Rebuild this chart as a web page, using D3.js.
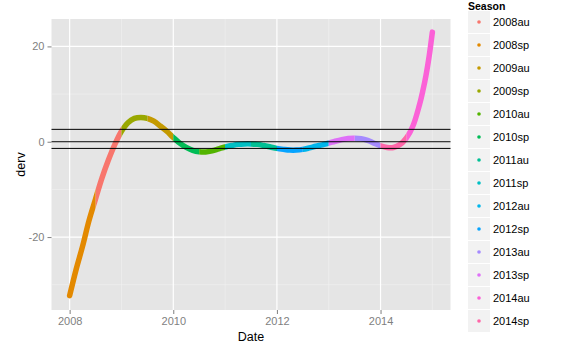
<!DOCTYPE html>
<html>
<head>
<meta charset="utf-8">
<script src="https://cdn.jsdelivr.net/npm/d3@7"></script>
<style>
  body { margin: 0; background: #fff; }
  svg { font-family: "Liberation Sans", Arial, sans-serif; }
</style>
</head>
<body>
<svg id="chart"></svg>
<script>
// values
const dates = [
  2008.000, 2008.125, 2008.250, 2008.375, 2008.500, 2008.625, 2008.750, 2008.875,
  2009.000, 2009.125, 2009.250, 2009.375, 2009.500, 2009.625, 2009.750, 2009.875,
  2010.000, 2010.125, 2010.250, 2010.375, 2010.500, 2010.625, 2010.750, 2010.875,
  2011.000, 2011.125, 2011.250, 2011.375, 2011.500, 2011.625, 2011.750, 2011.875,
  2012.000, 2012.125, 2012.250, 2012.375, 2012.500, 2012.625, 2012.750, 2012.875,
  2013.000, 2013.125, 2013.250, 2013.375, 2013.500, 2013.625, 2013.750, 2013.875,
  2014.000, 2014.125, 2014.250, 2014.375, 2014.500, 2014.625, 2014.750, 2014.8125,
  2014.875, 2014.9375, 2015.000
];
const derv = [
  -32.3, -26.8, -21.9, -16.5, -12.0, -7.6, -3.8, -0.5,
  2.2, 4.0, 4.9, 5.1, 4.9, 4.3, 3.3, 2.2,
  0.9, -0.3, -1.2, -1.8, -2.1, -2.15, -1.9, -1.5,
  -1.1, -0.8, -0.55, -0.45, -0.45, -0.55, -0.8, -1.1,
  -1.4, -1.6, -1.75, -1.75, -1.6, -1.3, -0.95, -0.65,
  -0.3, 0.1, 0.45, 0.7, 0.75, 0.65, 0.3, -0.3,
  -0.85, -1.2, -1.2, -0.6, 0.8, 3.3, 7.7, 10.5,
  13.8, 17.9, 23.0
];
const seasons = [
  "2008au", "2008sp", "2009au", "2009sp", "2010au", "2010sp", "2011au",
  "2011sp", "2012au", "2012sp", "2013au", "2013sp", "2014au", "2014sp"
];
const xTicks = [2008, 2010, 2012, 2014];
const xMinor = [2009, 2011, 2013, 2015];
const yTicks = [-20, 0, 20];
const yMinor = [-30, -10, 10];
const hlines = [2.6, 0, -1.4];

const width = 565;
const height = 355;
const panel = { left: 51.5, right: 450.5, top: 19, bottom: 310 };

// R's hcl() (polar LUV) so the hue palette matches ggplot
function hclR(h, c, l) {
  const un = 0.1978398, vn = 0.4683363;
  const hr = (h * Math.PI) / 180;
  const U = c * Math.cos(hr), V = c * Math.sin(hr);
  const Y = 100 * (l > 7.999592 ? Math.pow((l + 16) / 116, 3) : l / 903.3);
  const u = U / (13 * l) + un, v = V / (13 * l) + vn;
  const X = (9 * Y * u) / (4 * v);
  const Z = -X / 3 - 5 * Y + (3 * Y) / v;
  const g = (t) => (t > 0.00304 ? 1.055 * Math.pow(t, 1 / 2.4) - 0.055 : 12.92 * t);
  const cl = (t) => Math.round(Math.max(0, Math.min(1, t)) * 255);
  const r = g((3.240479 * X - 1.53715 * Y - 0.498535 * Z) / 100);
  const gg = g((-0.969256 * X + 1.875992 * Y + 0.041556 * Z) / 100);
  const b = g((0.055648 * X - 0.204043 * Y + 1.057311 * Z) / 100);
  return d3.rgb(cl(r), cl(gg), cl(b)).formatHex();
}
const hues = seasons.map((d, i) => 15 + (i * 360) / seasons.length);
const colorScale = d3.scaleOrdinal().domain(seasons).range(hues.map((h) => hclR(h, 100, 65)));

const svg = d3.select("#chart").attr("width", width).attr("height", height);

const xScale = d3.scaleLinear().domain([2007.65, 2015.35]).range([panel.left, panel.right]);
const yScale = d3.scaleLinear().domain([-35.3, 25.75]).range([panel.bottom, panel.top]);

// panel + grid
svg.append("rect")
  .attr("x", panel.left).attr("y", panel.top)
  .attr("width", panel.right - panel.left).attr("height", panel.bottom - panel.top)
  .attr("fill", "#e5e5e5");

const grid = svg.append("g");
grid.selectAll(".xminor").data(xMinor).join("line")
  .attr("x1", (d) => xScale(d)).attr("x2", (d) => xScale(d))
  .attr("y1", panel.top).attr("y2", panel.bottom)
  .attr("stroke", "#f2f2f2").attr("stroke-width", 0.6);
grid.selectAll(".yminor").data(yMinor).join("line")
  .attr("y1", (d) => yScale(d)).attr("y2", (d) => yScale(d))
  .attr("x1", panel.left).attr("x2", panel.right)
  .attr("stroke", "#f2f2f2").attr("stroke-width", 0.6);
grid.selectAll(".xmajor").data(xTicks).join("line")
  .attr("x1", (d) => xScale(d)).attr("x2", (d) => xScale(d))
  .attr("y1", panel.top).attr("y2", panel.bottom)
  .attr("stroke", "#fff").attr("stroke-width", 1.2);
grid.selectAll(".ymajor").data(yTicks).join("line")
  .attr("y1", (d) => yScale(d)).attr("y2", (d) => yScale(d))
  .attr("x1", panel.left).attr("x2", panel.right)
  .attr("stroke", "#fff").attr("stroke-width", 1.2);

// curve, coloured by season via clip rects
const points = dates.map((d, i) => ({ date: d, derv: derv[i] }));
const line = d3.line()
  .x((d) => xScale(d.date))
  .y((d) => yScale(d.derv))
  .curve(d3.curveCatmullRom);

const defs = svg.append("defs");
seasons.forEach((s, i) => {
  const yr = +s.slice(0, 4);
  const start = yr + (s.endsWith("sp") ? 0 : 0.5);
  const end = start + 0.5;
  const x0 = start <= dates[0] ? 0 : xScale(start);
  const x1 = end >= dates[dates.length - 1] ? width : xScale(end);
  defs.append("clipPath").attr("id", "clip" + i)
    .append("rect")
    .attr("x", x0).attr("y", 0)
    .attr("width", x1 - x0).attr("height", height);
  svg.append("path")
    .datum(points)
    .attr("d", line)
    .attr("fill", "none")
    .attr("stroke", colorScale(s))
    .attr("stroke-width", 5.5)
    .attr("stroke-linecap", "round")
    .attr("clip-path", `url(#clip${i})`);
});

// horizontal reference lines
svg.selectAll(".hline").data(hlines).join("line")
  .attr("x1", panel.left).attr("x2", panel.right)
  .attr("y1", (d) => yScale(d)).attr("y2", (d) => yScale(d))
  .attr("stroke", "#000").attr("stroke-width", 1);

// axes
const xAxis = svg.append("g")
  .attr("transform", `translate(0, ${panel.bottom})`)
  .call(d3.axisBottom(xScale).tickValues(xTicks).tickFormat(d3.format("d")).tickSize(4).tickPadding(3));
const yAxis = svg.append("g")
  .attr("transform", `translate(${panel.left}, 0)`)
  .call(d3.axisLeft(yScale).tickValues(yTicks).tickFormat((d) => String(d)).tickSize(4).tickPadding(3));
[xAxis, yAxis].forEach((a) => {
  a.select(".domain").remove();
  a.selectAll("line").attr("stroke", "#7f7f7f");
  a.selectAll("text")
    .attr("fill", "#7f7f7f")
    .style("font-size", "11px")
    .style("font-family", "'Liberation Sans', Arial, sans-serif");
});

svg.append("text")
  .attr("x", (panel.left + panel.right) / 2)
  .attr("y", 341)
  .attr("text-anchor", "middle")
  .style("font-size", "12.5px")
  .text("Date");

svg.append("text")
  .attr("transform", `translate(25, ${(panel.top + panel.bottom) / 2}) rotate(-90)`)
  .attr("text-anchor", "middle")
  .style("font-size", "12.5px")
  .text("derv");

// legend
const legend = svg.append("g").attr("transform", "translate(468, 0)");
legend.append("text")
  .attr("x", 0).attr("y", 9.5)
  .style("font-size", "10.5px")
  .style("font-weight", "bold")
  .text("Season");

const keys = legend.selectAll(".key").data(seasons).join("g")
  .attr("transform", (d, i) => `translate(0, ${11 + i * 23})`);
keys.append("rect")
  .attr("width", 22).attr("height", 22)
  .attr("fill", "#f2f2f2");
keys.append("circle")
  .attr("cx", 11).attr("cy", 11).attr("r", 1.8)
  .attr("fill", (d) => colorScale(d));
keys.append("text")
  .attr("x", 25).attr("y", 11)
  .attr("dy", "0.35em")
  .style("font-size", "11px")
  .text((d) => d);
</script>
</body>
</html>
